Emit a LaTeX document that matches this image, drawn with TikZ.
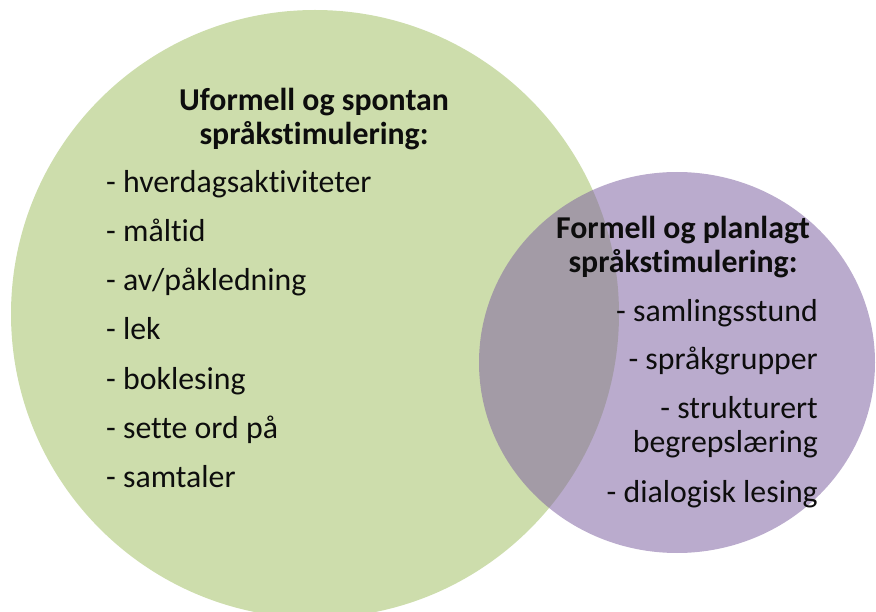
\documentclass[tikz,border=0pt]{standalone}
\usepackage{fontspec}
\setmainfont{Carlito}[Ligatures={NoCommon,NoContextual}]
\definecolor{vgreen}{HTML}{9BBB59}
\definecolor{vpurple}{HTML}{8064A2}
\definecolor{vtext}{HTML}{0D0D0D}
\begin{document}
\begin{tikzpicture}[x=1pt,y=-1pt,
  txt/.style={inner sep=0pt, text=vtext, font=\fontsize{31.8}{36}\selectfont},
  head/.style={txt, font=\fontsize{31.8}{36}\selectfont\bfseries, anchor=base},
  litem/.style={txt, anchor=base west},
  ritem/.style={txt, anchor=base east}]
\useasboundingbox (0,0) rectangle (876,612);
\clip (0,0) rectangle (876,612);
\fill[vgreen, fill opacity=0.5] (315,314) circle (304);
\fill[vpurple, fill opacity=0.54] (677,362.5) ellipse [x radius=198, y radius=190.5];
% green circle texts
\node[head] (gh1) at (314,111) {Uformell og spontan};
\node[head] (gh2) at (314,145) {språkstimulering:};
\node[litem] (g1) at (106,193) {- hverdagsaktiviteter};
\node[litem] (g2) at (106,242) {- måltid};
\node[litem] (g3) at (106,291) {- av/påkledning};
\node[litem] (g4) at (106,340) {- lek};
\node[litem] (g5) at (106,389) {- boklesing};
\node[litem] (g6) at (106,438) {- sette ord på};
\node[litem] (g7) at (106,487) {- samtaler};
% purple circle texts
\node[head] (ph1) at (683,239) {Formell og planlagt};
\node[head] (ph2) at (683,273) {språkstimulering:};
\node[ritem] (p1) at (818,322) {- samlingsstund};
\node[ritem] (p2) at (818,370) {- språkgrupper};
\node[ritem] (p3) at (818,418) {- strukturert};
\node[ritem] (p4) at (818,452) {begrepslæring};
\node[ritem] (p5) at (818,502) {- dialogisk lesing};
\end{tikzpicture}
\end{document}
